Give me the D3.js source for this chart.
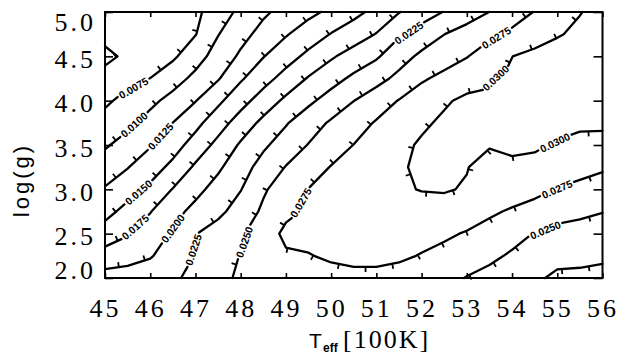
<!DOCTYPE html>
<html>
<head>
<meta charset="utf-8">
<script src="https://cdn.jsdelivr.net/npm/d3@7"></script>
<style>
  html, body { margin: 0; padding: 0; background: #fff; }
  svg { display: block; }
</style>
</head>
<body>
<svg id="chart" width="643" height="355"></svg>
<script>
// Grid axes of the model field
const teff = [45, 45.5, 46, 46.5, 47, 47.5, 48, 48.5, 49, 49.5, 50, 50.5, 51, 51.5, 52, 52.5, 53, 53.5, 54, 54.5, 55, 55.5, 56];
const logg = [2.00, 2.25, 2.50, 2.75, 3.00, 3.25, 3.50, 3.75, 4.00, 4.25, 4.50, 4.75, 5.00];

// Field values, one row per log(g), columns follow teff
const z_200 = [0.0210,0.0212,0.0214,0.0221,0.0232,0.0243,0.0254,0.0258,0.0262,0.0265,0.0268,0.0270,0.0270,0.0268,0.0264,0.0257,0.0249,0.0243,0.0237,0.0231,0.0218,0.0219,0.0218];
const z_225 = [0.0185,0.0190,0.0198,0.0212,0.0226,0.0238,0.0251,0.0258,0.0272,0.0274,0.0278,0.0280,0.0280,0.0278,0.0274,0.0268,0.0262,0.0255,0.0247,0.0241,0.0236,0.0232,0.0229];
const z_250 = [0.0161,0.0173,0.0187,0.0203,0.0224,0.0236,0.0247,0.0263,0.0280,0.0281,0.0283,0.0284,0.0284,0.0283,0.0281,0.0279,0.0273,0.0266,0.0258,0.0249,0.0242,0.0239,0.0236];
const z_275 = [0.0142,0.0158,0.0174,0.0192,0.0207,0.0219,0.0236,0.0254,0.0270,0.0278,0.0282,0.0285,0.0288,0.0290,0.0290,0.0290,0.0288,0.0279,0.0272,0.0267,0.0260,0.0256,0.0251];
const z_300 = [0.0127,0.0140,0.0155,0.0176,0.0193,0.0209,0.0224,0.0247,0.0262,0.02755,0.0281,0.0286,0.0292,0.0297,0.0301,0.0302,0.0298,0.0292,0.0288,0.0281,0.0274,0.0269,0.0268];
const z_325 = [0.0112,0.0124,0.0139,0.0156,0.0179,0.0196,0.0215,0.0234,0.0251,0.0264,0.0276,0.0284,0.0291,0.0298,0.0303,0.0304,0.0301,0.0290,0.0295,0.0294,0.0290,0.0283,0.0277];
const z_350 = [0.0097,0.0110,0.0123,0.0140,0.0160,0.0182,0.0203,0.0221,0.0236,0.0251,0.0263,0.02754,0.0285,0.0294,0.0303,0.0305,0.0303,0.0302,0.0305,0.0303,0.0298,0.0294,0.0293];
const z_375 = [0.0083,0.0094,0.0109,0.01252,0.0143,0.0164,0.0186,0.0206,0.0223,0.0239,0.0253,0.0265,0.0277,0.0286,0.0296,0.0304,0.0308,0.0311,0.0313,0.0312,0.0306,0.0304,0.0304];
const z_400 = [0.0071,0.0082,0.0094,0.0108,0.0124,0.0145,0.0166,0.0186,0.0205,0.0220,0.0235,0.02497,0.0263,0.0276,0.0287,0.0297,0.0305,0.0305,0.0308,0.0312,0.0315,0.0316,0.0317];
const z_425 = [0.0064,0.0069,0.00752,0.0090,0.0106,0.0123,0.0147,0.0166,0.0184,0.0202,0.0216,0.0230,0.0242,0.0256,0.0272,0.0281,0.0289,0.0296,0.0303,0.0308,0.0312,0.0314,0.0315];
const z_450 = [0.0040,0.0058,0.0064,0.0071,0.0090,0.0110,0.0129,0.0149,0.0165,0.0181,0.0197,0.0210,0.0222,0.0240,0.0255,0.0265,0.0274,0.0287,0.02998,0.0306,0.0310,0.0312,0.0313];
const z_475 = [0.0062,0.0063,0.0065,0.0068,0.0074,0.0099,0.0117,0.0133,0.0148,0.0162,0.0176,0.0188,0.0201,0.0222,0.0236,0.02497,0.0260,0.0270,0.0280,0.0289,0.0298,0.0305,0.0309];
const z_500 = [0.0058,0.0060,0.0063,0.0066,0.0070,0.0087,0.0106,0.0121,0.0133,0.0144,0.0155,0.0168,0.0182,0.0199,0.0213,0.0226,0.0238,0.02502,0.0263,0.0276,0.0288,0.0299,0.0308];
const rows = [z_200, z_225, z_250, z_275, z_300, z_325, z_350, z_375, z_400, z_425, z_450, z_475, z_500];

// Contour levels
const levels = [0.0050, 0.0075, 0.0100, 0.0125, 0.0150, 0.0175, 0.0200, 0.0225, 0.0250, 0.0275, 0.0300];

// Axis ticks
const xTickValues = [45, 46, 47, 48, 49, 50, 51, 52, 53, 54, 55, 56];
const yTickValues = [2.0, 2.5, 3.0, 3.5, 4.0, 4.5, 5.0];

// Where the in-line level labels sit (Teff, log g), snapped onto the nearest line of that level
const labelSpots = [
  { level: 0.0075, t: 45.62, g: 4.15 },
  { level: 0.0100, t: 45.64, g: 3.73 },
  { level: 0.0125, t: 46.24, g: 3.59 },
  { level: 0.0150, t: 45.75, g: 2.96 },
  { level: 0.0175, t: 45.69, g: 2.56 },
  { level: 0.0200, t: 46.44, g: 2.58 },
  { level: 0.0225, t: 46.92, g: 2.32 },
  { level: 0.0225, t: 51.70, g: 4.78 },
  { level: 0.0250, t: 48.07, g: 2.41 },
  { level: 0.0250, t: 54.70, g: 2.585 },
  { level: 0.0275, t: 53.64, g: 4.72 },
  { level: 0.0275, t: 49.51, g: 2.81 },
  { level: 0.0275, t: 54.97, g: 3.03 },
  { level: 0.0300, t: 53.72, g: 4.21 },
  { level: 0.0300, t: 54.95, g: 3.53 }
];

// ---------------------------------------------------------------
const svg = d3.select("#chart");
const X0 = 105, X1 = 602.5, Y0 = 12, Y1 = 278;
const x = d3.scaleLinear().domain([45, 56]).range([X0, X1]);
const y = d3.scaleLinear().domain([2, 5]).range([Y1, Y0]);

const nx = teff.length, ny = logg.length;
const values = rows.flat();

// grid coordinates of d3.contours -> data coordinates
const colT = d3.scaleLinear().domain([0.5, nx - 0.5]).range([teff[0], teff[nx - 1]]).clamp(true);
const rowG = d3.scaleLinear().domain([0.5, ny - 0.5]).range([logg[0], logg[ny - 1]]).clamp(true);
const toPx = p => [x(colT(p[0])), y(rowG(p[1]))];

// bilinear field lookup (used to orient the downhill ticks)
function fieldAt(t, g) {
  const fi = Math.max(0, Math.min(nx - 1 - 1e-9, (t - teff[0]) / (teff[1] - teff[0])));
  const fj = Math.max(0, Math.min(ny - 1 - 1e-9, (g - logg[0]) / (logg[1] - logg[0])));
  const i = Math.floor(fi), j = Math.floor(fj), a = fi - i, b = fj - j;
  const v = (ii, jj) => rows[jj][ii];
  return (1 - a) * (1 - b) * v(i, j) + a * (1 - b) * v(i + 1, j) +
         (1 - a) * b * v(i, j + 1) + a * b * v(i + 1, j + 1);
}
const sampleAtPx = (px, py) => fieldAt(x.invert(px), y.invert(py));

// which frame edges a pixel point lies on
function edgesOf(p) {
  const e = [];
  if (Math.abs(p[0] - X0) < 1e-6) e.push("L");
  if (Math.abs(p[0] - X1) < 1e-6) e.push("R");
  if (Math.abs(p[1] - Y0) < 1e-6) e.push("T");
  if (Math.abs(p[1] - Y1) < 1e-6) e.push("B");
  return e;
}
const onBoundary = (a, b) => { const ea = edgesOf(a), eb = edgesOf(b); return ea.some(e => eb.includes(e)); };

// split a closed ring into open polylines, dropping pieces along the frame
function ringToLines(ring) {
  const pts = ring.map(toPx);
  const f = pts[0], l = pts[pts.length - 1];
  if (pts.length > 1 && f[0] === l[0] && f[1] === l[1]) pts.pop();
  const n = pts.length;
  const bnd = d3.range(n).map(i => onBoundary(pts[i], pts[(i + 1) % n]));
  if (!bnd.some(Boolean)) return [[...pts, pts[0]]];
  const start = bnd.findIndex(Boolean);
  const lines = [];
  let cur = null;
  for (let k = 1; k <= n; k++) {
    const i = (start + k) % n;
    if (bnd[i]) { if (cur && cur.length > 1) lines.push(cur); cur = null; }
    else { if (!cur) cur = [pts[i]]; cur.push(pts[(i + 1) % n]); }
  }
  if (cur && cur.length > 1) lines.push(cur);
  return lines;
}

function cumulative(pts) {
  const c = [0];
  for (let i = 1; i < pts.length; i++)
    c.push(c[i - 1] + Math.hypot(pts[i][0] - pts[i - 1][0], pts[i][1] - pts[i - 1][1]));
  return c;
}
function pointAt(pts, cum, s) {
  let i = Math.min(Math.max(d3.bisectRight(cum, s) - 1, 0), pts.length - 2);
  const seg = cum[i + 1] - cum[i] || 1e-9;
  const r = Math.max(0, Math.min(1, (s - cum[i]) / seg));
  const a = pts[i], b = pts[i + 1];
  const dx = b[0] - a[0], dy = b[1] - a[1], len = Math.hypot(dx, dy) || 1e-9;
  return { p: [a[0] + r * dx, a[1] + r * dy], u: [dx / len, dy / len] };
}
function subPath(pts, cum, s0, s1) {
  const out = [pointAt(pts, cum, s0).p];
  for (let i = 0; i < pts.length; i++) if (cum[i] > s0 && cum[i] < s1) out.push(pts[i]);
  out.push(pointAt(pts, cum, s1).p);
  return out;
}
function nearestS(pts, cum, P) {
  let best = Infinity, bestS = 0;
  for (let i = 0; i < pts.length - 1; i++) {
    const a = pts[i], b = pts[i + 1];
    const dx = b[0] - a[0], dy = b[1] - a[1], L2 = dx * dx + dy * dy || 1e-9;
    const r = Math.max(0, Math.min(1, ((P[0] - a[0]) * dx + (P[1] - a[1]) * dy) / L2));
    const q = [a[0] + r * dx, a[1] + r * dy];
    const d = Math.hypot(P[0] - q[0], P[1] - q[1]);
    if (d < best) { best = d; bestS = cum[i] + r * Math.sqrt(L2); }
  }
  return { d: best, s: bestS };
}

// ---------------------------------------------------------------
// contour geometry
const contourSet = d3.contours().size([nx, ny]).thresholds(levels)(values);
const polylines = [];
contourSet.forEach(c => {
  c.coordinates.forEach(poly => poly.forEach(ring => {
    ringToLines(ring).forEach(pts => {
      const cum = cumulative(pts);
      if (cum[cum.length - 1] > 1) polylines.push({ level: c.value, pts, cum, gaps: [] });
    });
  }));
});

const plot = svg.append("g");
const labelLayer = svg.append("g");
const fmt = d3.format(".4f");
const labelFont = "'Liberation Sans', Arial, Helvetica, sans-serif";
const labelSize = 10.5;

const probe = svg.append("text").attr("font-family", labelFont).attr("font-size", labelSize)
  .attr("font-weight", "bold").text("0.0000");
const textW = probe.node().getComputedTextLength();
probe.remove();
const gapLen = textW + 5;

labelSpots.forEach(spot => {
  const P = [x(spot.t), y(spot.g)];
  let best = null;
  polylines.filter(pl => Math.abs(pl.level - spot.level) < 1e-9).forEach(pl => {
    const r = nearestS(pl.pts, pl.cum, P);
    if (!best || r.d < best.d) best = { d: r.d, s: r.s, pl };
  });
  if (!best) return;
  const pl = best.pl, total = pl.cum[pl.cum.length - 1];
  const s = Math.max(gapLen / 2, Math.min(total - gapLen / 2, best.s));
  const s0 = s - gapLen / 2, s1 = s + gapLen / 2;
  pl.gaps.push([s0, s1]);
  const a = pointAt(pl.pts, pl.cum, s0).p, b = pointAt(pl.pts, pl.cum, s1).p;
  let ang = Math.atan2(b[1] - a[1], b[0] - a[0]) * 180 / Math.PI;
  if (ang > 90) ang -= 180;
  if (ang < -90) ang += 180;
  const mx = (a[0] + b[0]) / 2, my = (a[1] + b[1]) / 2;
  labelLayer.append("text")
    .attr("transform", `translate(${mx},${my}) rotate(${ang})`)
    .attr("text-anchor", "middle")
    .attr("dominant-baseline", "central")
    .attr("font-family", labelFont)
    .attr("font-size", labelSize)
    .attr("font-weight", "bold")
    .attr("fill", "#000")
    .text(fmt(spot.level));
});

// contour lines with gaps for labels, plus downhill ticks
const line = d3.line();
const tickStep = 27, tickStart = 14, tickLen = 5;
polylines.forEach(pl => {
  const total = pl.cum[pl.cum.length - 1];
  const gaps = pl.gaps.slice().sort((a, b) => a[0] - b[0]);
  let pos = 0;
  const pieces = [];
  gaps.forEach(g => { if (g[0] > pos) pieces.push([pos, g[0]]); pos = Math.max(pos, g[1]); });
  if (pos < total) pieces.push([pos, total]);
  pieces.forEach(([s0, s1]) => {
    plot.append("path")
      .attr("d", line(subPath(pl.pts, pl.cum, s0, s1)))
      .attr("fill", "none")
      .attr("stroke", "#000")
      .attr("stroke-width", 2.3)
      .attr("stroke-linejoin", "round")
      .attr("stroke-linecap", "round");
  });
  const tickPath = [];
  for (let s = tickStart; s < total - 3; s += tickStep) {
    if (gaps.some(g => s > g[0] - 3 && s < g[1] + 3)) continue;
    const { p, u } = pointAt(pl.pts, pl.cum, s);
    const n = [-u[1], u[0]];
    const fPlus = sampleAtPx(p[0] + 3 * n[0], p[1] + 3 * n[1]);
    const fMinus = sampleAtPx(p[0] - 3 * n[0], p[1] - 3 * n[1]);
    const sg = fPlus < fMinus ? 1 : -1;
    tickPath.push(`M${p[0]},${p[1]}L${p[0] + sg * tickLen * n[0]},${p[1] + sg * tickLen * n[1]}`);
  }
  if (tickPath.length)
    plot.append("path").attr("d", tickPath.join("")).attr("stroke", "#000")
      .attr("stroke-width", 1.8).attr("fill", "none");
});

// ---------------------------------------------------------------
// axes
const serif = "'Liberation Serif', 'Times New Roman', serif";
const sans = "'Liberation Sans', Arial, Helvetica, sans-serif";

const gB = svg.append("g").attr("transform", `translate(0,${Y1})`)
  .call(d3.axisBottom(x).tickValues(xTickValues).tickSize(-5).tickSizeOuter(0).tickFormat(d3.format("d")));
const gT = svg.append("g").attr("transform", `translate(0,${Y0})`)
  .call(d3.axisTop(x).tickValues(xTickValues).tickSize(-5).tickSizeOuter(0).tickFormat(""));
const gL = svg.append("g").attr("transform", `translate(${X0},0)`)
  .call(d3.axisLeft(y).tickValues(yTickValues).tickSize(-8).tickSizeOuter(0).tickFormat(d3.format(".1f")));
const gR = svg.append("g").attr("transform", `translate(${X1},0)`)
  .call(d3.axisRight(y).tickValues(yTickValues).tickSize(-9).tickSizeOuter(0).tickFormat(""));

[gB, gT, gL, gR].forEach(g => {
  g.select(".domain").remove();
  g.selectAll(".tick line").attr("stroke", "#000").attr("stroke-width", 1.6);
});

gB.selectAll("text")
  .attr("y", 39).attr("dy", null)
  .attr("font-family", serif).attr("font-size", 26)
  .attr("letter-spacing", 3).attr("fill", "#000");

gL.selectAll(".tick text")
  .attr("x", -9).attr("dy", null)
  .attr("y", d => Math.max(30, Math.min(Y1, y(d) + 11)) - y(d))
  .attr("font-family", serif).attr("font-size", 26)
  .attr("letter-spacing", 3).attr("fill", "#000");

// frame
svg.append("rect")
  .attr("x", X0).attr("y", Y0).attr("width", X1 - X0).attr("height", Y1 - Y0)
  .attr("fill", "none").attr("stroke", "#000").attr("stroke-width", 2);

// axis titles
svg.append("text")
  .attr("transform", "translate(29,180) rotate(-90)")
  .attr("text-anchor", "middle")
  .attr("font-family", sans).attr("font-size", 22).attr("letter-spacing", 3)
  .attr("fill", "#000")
  .text("log(g)");

svg.append("text").attr("x", 309).attr("y", 348)
  .attr("font-family", sans).attr("font-size", 21).attr("fill", "#000").text("T");
svg.append("text").attr("x", 323).attr("y", 352)
  .attr("font-family", sans).attr("font-size", 12).attr("font-weight", "bold").attr("fill", "#000").text("eff");
svg.append("text").attr("x", 343).attr("y", 348)
  .attr("font-family", serif).attr("font-size", 26).attr("letter-spacing", 2).attr("fill", "#000").text("[100K]");
</script>
</body>
</html>
